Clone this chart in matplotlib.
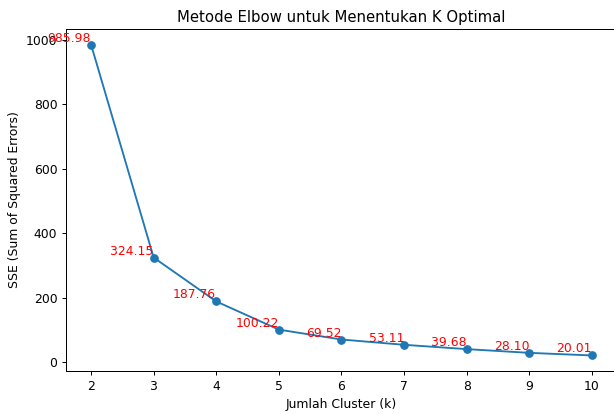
import matplotlib
matplotlib.use('Agg')
import matplotlib.pyplot as plt

k_values = [2, 3, 4, 5, 6, 7, 8, 9, 10]
sse_values = [985.98, 324.15, 187.76, 100.22, 69.52, 53.11, 39.68, 28.10, 20.01]

DPI = 89
fig = plt.figure(figsize=(614 / DPI, 414 / DPI), dpi=DPI)
# the original is a crop, the right spine falls just outside the picture
ax = fig.add_axes([66 / 614, 1 - 371 / 414, (617 - 66) / 614, (371 - 29) / 414])

ax.plot(k_values, sse_values, marker='o')

for k, sse in zip(k_values, sse_values):
    ax.text(k, sse, f'{sse:.2f}', color='red', ha='right', va='bottom', fontsize=10)

ax.set_title('Metode Elbow untuk Menentukan K Optimal')
ax.set_xlabel('Jumlah Cluster (k)')
ax.set_ylabel('SSE (Sum of Squared Errors)')
ax.set_xticks(k_values)

fig.savefig('out.png', dpi=DPI)
